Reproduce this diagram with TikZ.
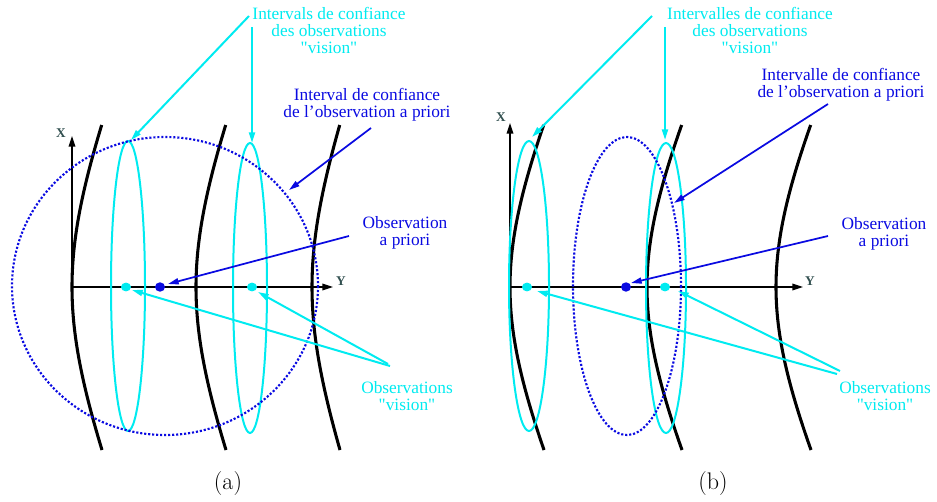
\documentclass[tikz,border=0pt]{standalone}
\usepackage{fontspec}
\newfontfamily\lib{Liberation Serif}
\usetikzlibrary{arrows.meta}
\definecolor{cy}{RGB}{0,235,240}
\definecolor{bl}{RGB}{10,10,225}
\definecolor{axl}{RGB}{50,80,80}
\begin{document}
\begin{tikzpicture}[x=0.75pt,y=-0.75pt,
  hcurve/.style={line width=2.3pt, black},
  vell/.style={draw=cy, line width=1.5pt},
  prior/.style={draw=bl, line width=1.6pt, dash pattern=on 1.6pt off 1.4pt},
  axis/.style={line width=1pt, black, -{Triangle[length=8pt,width=5pt]}},
  carr/.style={cy, line width=1.5pt, -{Triangle[length=8pt,width=4.5pt]}},
  barr/.style={bl, line width=1.3pt, -{Triangle[length=8pt,width=4.5pt]}},
  ctext/.style={text=cy, font=\lib\fontsize{13}{12.75}\selectfont, align=center, inner sep=0pt},
  btext/.style={text=bl, font=\lib\fontsize{13}{12.75}\selectfont, align=center, inner sep=0pt},
  axlab/.style={text=axl, font=\lib\fontsize{10}{10}\selectfont\bfseries, inner sep=0pt},
  capt/.style={font=\fontsize{18}{20}\selectfont, inner sep=0pt}
]
\useasboundingbox (0,0) rectangle (937,502);

% ---------------- panel (a) ----------------
\foreach \vx/\off in {72/30,196/30,312/28}{
  \draw[hcurve] plot[domain=-162:163, samples=60, smooth]
    ({\vx+\off/0.5348*(sqrt(1+(\x/140)^2)-1)}, {287+\x});
}
\coordinate (ao) at (72,287);
\coordinate (ay) at (333,287);
\coordinate (ax) at (72,136);
\draw[axis] (ao) -- (ay);
\draw[axis] (ao) -- (ax);
\node[axlab] (aylab) at (341,281) {Y};
\node[axlab] (axlab) at (61,133) {X};

\draw[vell] (128,286) ellipse [x radius=17, y radius=145];
\draw[vell] (250,288) ellipse [x radius=17, y radius=145];
\draw[prior] (165,286) ellipse [x radius=153, y radius=149];

\fill[cy] (126,287) ellipse [x radius=5, y radius=4.4];
\fill[cy] (252,287) ellipse [x radius=5, y radius=4.4];
\fill[bl] (160,287) ellipse [x radius=5, y radius=4.7];

\node[ctext] (aint) at (329,30) {Intervals de confiance\\des observations\\"vision"};
\node[btext] (apint) at (367,105) {Interval de confiance\\de l’observation a priori};
\node[btext] (apobs) at (405,233) {Observation\\a priori};
\node[ctext] (avis) at (407,396) {Observations\\"vision"};

\coordinate (aint1) at (249,16);
\coordinate (aint2) at (252,27);
\coordinate (apint1) at (371,128);
\coordinate (apobs1) at (349,236);
\coordinate (avis1) at (390,366);
\coordinate (avis2) at (388,364);

\draw[carr] (aint1) -- (131,140);
\draw[carr] (aint2) -- (252,143);
\draw[barr] (apint1) -- (289,190);
\draw[barr] (apobs1) -- (168,284);
\draw[carr] (avis1) -- (132,290);
\draw[carr] (avis2) -- (258,292);

\node[capt] (capa) at (228,484) {(a)};

% ---------------- panel (b) ----------------
\foreach \vx/\off in {510/34,647/35,776/35}{
  \draw[hcurve] plot[domain=-162:163, samples=60, smooth]
    ({\vx+\off/0.5348*(sqrt(1+(\x/140)^2)-1)}, {287+\x});
}
\coordinate (bo) at (510,287);
\coordinate (by) at (803,287);
\coordinate (bx) at (510,123);
\draw[axis] (bo) -- (by);
\draw[axis] (bo) -- (bx);
\node[axlab] (bylab) at (810,281) {Y};
\node[axlab] (bxlab) at (501,117) {X};

\draw[vell] (529,286) ellipse [x radius=20, y radius=145];
\draw[vell] (666,288) ellipse [x radius=20, y radius=145];
\draw[prior] (627,286) ellipse [x radius=54, y radius=149];

\fill[cy] (527,287) ellipse [x radius=5, y radius=4.4];
\fill[cy] (665,287) ellipse [x radius=5, y radius=4.4];
\fill[bl] (626,287) ellipse [x radius=5, y radius=4.7];

\node[ctext] (bint) at (750,30) {Intervalles de confiance\\des observations\\"vision"};
\node[btext] (bpint) at (841,85) {Intervalle de confiance\\de l’observation a priori};
\node[btext] (bpobs) at (884,234) {Observation\\a priori};
\node[ctext] (bvis) at (885,396) {Observations\\"vision"};

\coordinate (bint1) at (652,16);
\coordinate (bint2) at (665,27);
\coordinate (bpint1) at (828,104);
\coordinate (bpobs1) at (828,236);
\coordinate (bvis1) at (837,374);
\coordinate (bvis2) at (840,371);

\draw[carr] (bint1) -- (532,137);
\draw[carr] (bint2) -- (665,140);
\draw[barr] (bpint1) -- (674,203);
\draw[barr] (bpobs1) -- (631,283);
\draw[carr] (bvis1) -- (537,291);
\draw[carr] (bvis2) -- (678,291);

\node[capt] (capb) at (713,484) {(b)};
\end{tikzpicture}
\end{document}
